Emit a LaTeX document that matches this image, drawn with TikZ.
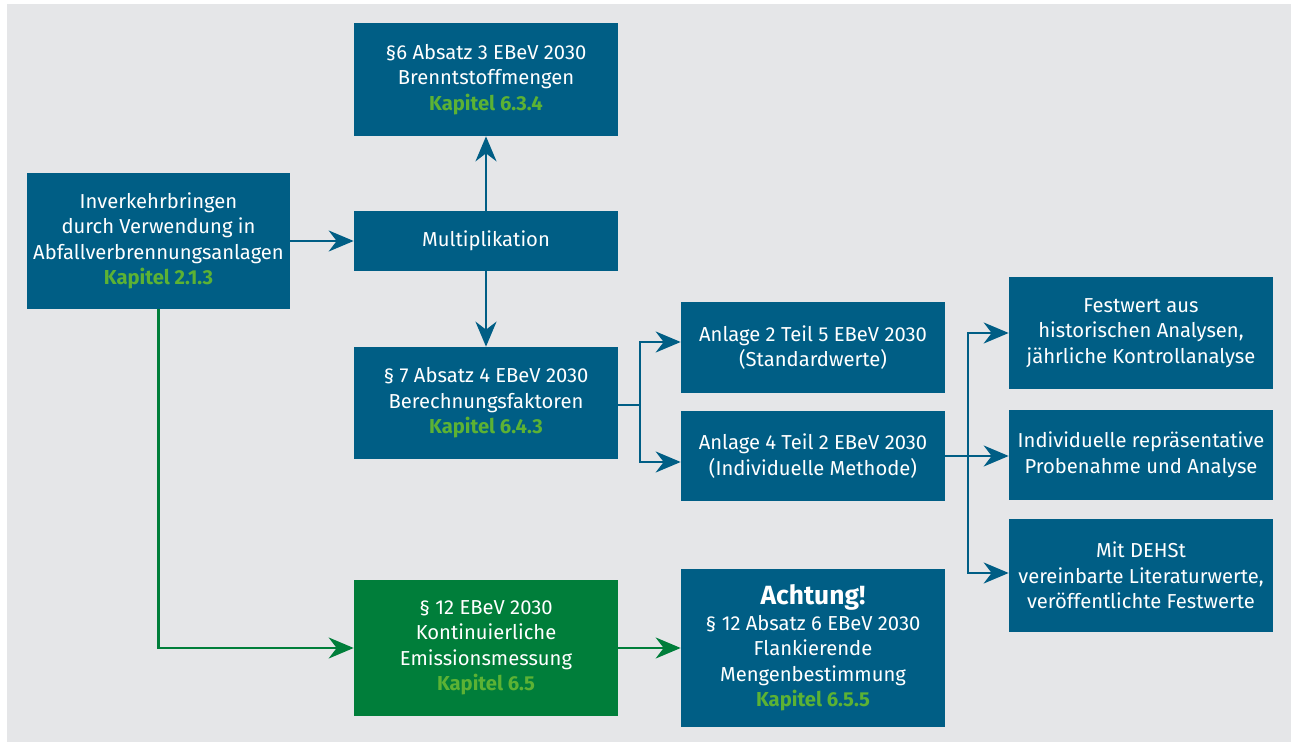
\documentclass[tikz,border=0pt]{standalone}
\usepackage{fontspec}
\setmainfont{Fira Sans}
\usepackage{tikz}
\usetikzlibrary{arrows.meta}
\definecolor{bgray}{RGB}{229,230,232}
\definecolor{ebblue}{RGB}{0,94,133}
\definecolor{ebgreen}{RGB}{0,126,58}
\definecolor{kapgreen}{RGB}{92,178,52}
\tikzset{
   ebbox/.style={fill=ebblue, text=white, align=center, inner sep=0pt,
           minimum width=5.28cm, font=\fontsize{11.5}{14.5}\selectfont},
   greenbox/.style={ebbox, fill=ebgreen},
   ebarrow/.style={draw=ebblue, line width=1.4pt,
           -{Stealth[length=5mm, width=4.2mm, inset=1.6mm]}},
   greenarrow/.style={ebarrow, draw=ebgreen},
}
\newcommand{\kap}[1]{\textcolor{kapgreen}{\bfseries #1}}

\begin{document}
\begin{tikzpicture}[x=0.02cm, y=-0.02cm]
    \useasboundingbox (0,0) rectangle (1291,742);
    \fill[bgray] (7,4) rectangle (1291,742);

    \node[ebbox, minimum height=2.26cm] (brenn) at (486,79.5)
        {§6 Absatz 3 EBeV 2030\\Brenntstoffmengen\\\kap{Kapitel 6.3.4}};
    \node[ebbox, minimum height=1.2cm] (mult) at (486,241) {Multiplikation};
    \node[ebbox, minimum width=5.26cm, minimum height=2.72cm] (inverk) at (158.5,241)
        {Inverkehrbringen\\durch Verwendung in\\Abfallverbrennungsanlagen\\\kap{Kapitel 2.1.3}};
    \node[ebbox, minimum height=2.24cm] (berech) at (486,403)
        {§ 7 Absatz 4 EBeV 2030\\Berechnungsfaktoren\\\kap{Kapitel 6.4.3}};
    \node[ebbox, minimum height=1.82cm] (anl2) at (813,347.5)
        {Anlage 2 Teil 5 EBeV 2030\\(Standardwerte)};
    \node[ebbox, minimum height=1.8cm] (anl4) at (813,456)
        {Anlage 4 Teil 2 EBeV 2030\\(Individuelle Methode)};
    \node[ebbox, minimum height=2.24cm] (festw) at (1141,333)
        {Festwert aus\\historischen Analysen,\\jährliche Kontrollanalyse};
    \node[ebbox, minimum height=1.8cm] (probe) at (1141,455)
        {Individuelle repräsentative\\Probenahme und Analyse};
    \node[ebbox, minimum height=2.26cm] (dehst) at (1141,575.5)
        {Mit DEHSt\\vereinbarte Literaturwerte,\\veröffentlichte Festwerte};
    \node[greenbox, minimum height=2.72cm] (emiss) at (486,648)
        {§ 12 EBeV 2030\\Kontinuierliche\\Emissionsmessung\\\kap{Kapitel 6.5}};
    \node[ebbox, minimum height=3.16cm] (achtung) at (813,648)
        {{\fontsize{15}{17}\selectfont\bfseries Achtung!}\\§ 12 Absatz 6 EBeV 2030\\Flankierende\\Mengenbestimmung\\\kap{Kapitel 6.5.5}};

    \draw[ebarrow] (inverk.east |- mult) -- (mult.west);
    \draw[ebarrow] (mult.north) -- (brenn.south);
    \draw[ebarrow] (mult.south) -- (berech.north);

    \coordinate (split1) at (640,405);
    \draw[draw=ebblue, line width=1.4pt] (berech.east |- split1) -- (split1);
    \draw[ebarrow] (split1) |- ([yshift=0.11cm]anl2.west);
    \draw[ebarrow] (split1) |- ([yshift=-0.12cm]anl4.west);

    \coordinate (split2) at (968,456);
    \draw[ebarrow] (anl4.east) -- (probe.west |- anl4);
    \draw[ebarrow] (split2) |- (festw.west);
    \draw[ebarrow] (split2) |- ([yshift=0.05cm]dehst.west);

    \draw[greenarrow] (inverk.south) |- (emiss.west);
    \draw[greenarrow] (emiss.east) -- (achtung.west);
\end{tikzpicture}
\end{document}
